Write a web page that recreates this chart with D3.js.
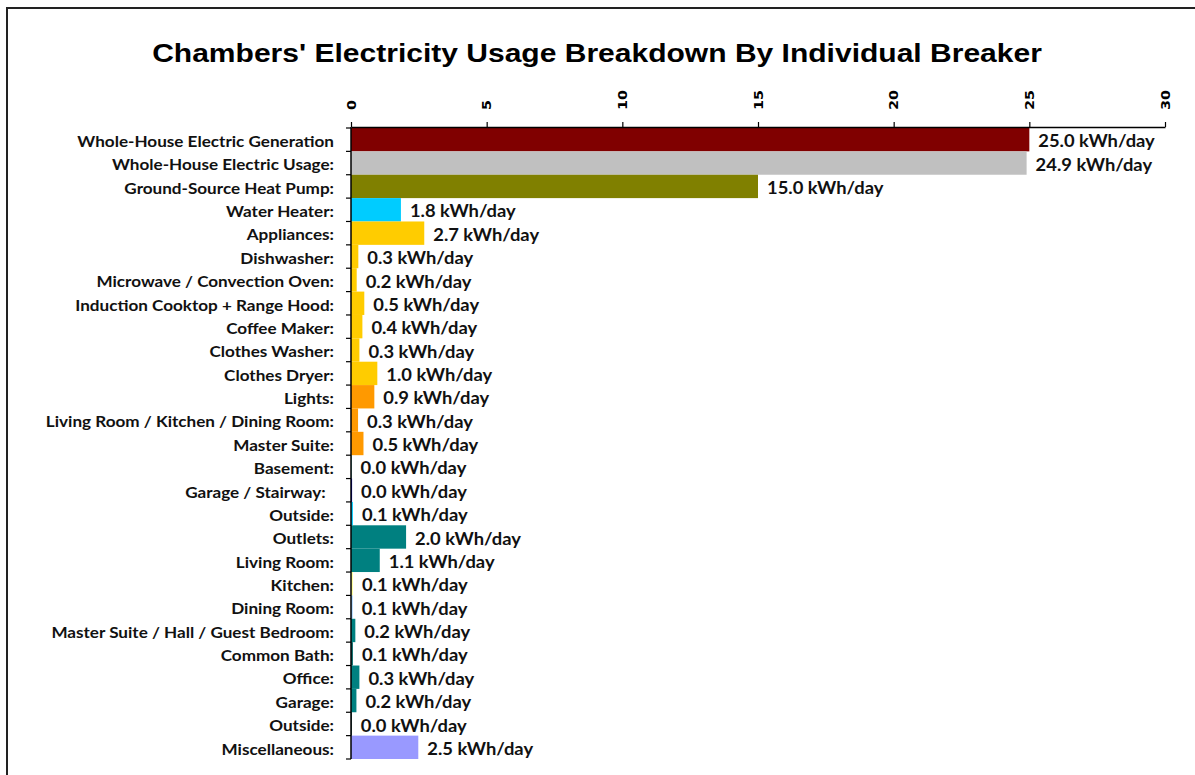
<!DOCTYPE html>
<html>
<head>
<meta charset="utf-8">
<script src="https://cdn.jsdelivr.net/npm/d3@7"></script>
<style>
  body { margin: 0; background: #fff; }
  svg { display: block; }
</style>
</head>
<body>
<div class="chart"></div>
<script>
;(function () {
  var W = 1195
  var H = 775

  var categories = [
    'Whole-House Electric Generation',
    'Whole-House Electric Usage:',
    'Ground-Source Heat Pump:',
    'Water Heater:',
    'Appliances:',
    'Dishwasher:',
    'Microwave / Convection Oven:',
    'Induction Cooktop + Range Hood:',
    'Coffee Maker:',
    'Clothes Washer:',
    'Clothes Dryer:',
    'Lights:',
    'Living Room / Kitchen / Dining Room:',
    'Master Suite:',
    'Basement:',
    'Garage / Stairway:  ',
    'Outside:',
    'Outlets:',
    'Living Room:',
    'Kitchen:',
    'Dining Room:',
    'Master Suite / Hall / Guest Bedroom:',
    'Common Bath:',
    'Office:',
    'Garage:',
    'Outside:',
    'Miscellaneous:'
  ]

  // kWh/day
  var values = [
    25.0, 24.9, 15.0, 1.84, 2.70, 0.27, 0.21, 0.49, 0.42, 0.31, 0.97,
    0.86, 0.26, 0.46, 0.02, 0.04, 0.07, 2.03, 1.06, 0.07, 0.06, 0.16,
    0.07, 0.31, 0.20, 0.03, 2.48
  ]

  var colors = [
    '#800000', '#c0c0c0', '#808000', '#00ccff', '#ffcc00', '#ffcc00', '#ffcc00',
    '#ffcc00', '#ffcc00', '#ffcc00', '#ffcc00', '#ff9900', '#ff9900', '#ff9900',
    '#008080', '#0000cc', '#00ccff', '#008080', '#008080', '#ffff99', '#99ccff',
    '#008080', '#006666', '#008080', '#008080', '#003333', '#9999ff'
  ]

  var xTicks = [0, 5, 10, 15, 20, 25, 30]

  var svg = d3.select('.chart').append('svg')
    .attr('width', W)
    .attr('height', H)

  svg.append('rect')
    .attr('width', W).attr('height', H)
    .attr('fill', '#fff')

  // outer frame (runs off the right and bottom)
  svg.append('rect')
    .attr('x', 7).attr('y', 8)
    .attr('width', W + 20).attr('height', H + 20)
    .attr('fill', 'none')
    .attr('stroke', '#222')
    .attr('stroke-width', 2)

  svg.append('text')
    .attr('transform', 'translate(597,62) scale(1.155,1)')
    .attr('text-anchor', 'middle')
    .style('font-family', 'Liberation Sans, Arial, sans-serif')
    .style('font-weight', 'bold')
    .style('font-size', '26px')
    .text("Chambers' Electricity Usage Breakdown By Individual Breaker")

  var x = d3.scaleLinear().domain([0, 30]).range([351, 1165])
  var y = d3.scaleBand()
    .domain(d3.range(categories.length))
    .range([128, 759])
    .padding(0)

  // bars
  svg.append('g').selectAll('rect')
    .data(values)
    .enter().append('rect')
    .attr('x', x(0))
    .attr('y', function (d, i) { return y(i) })
    .attr('width', function (d) { return x(d) - x(0) })
    .attr('height', y.bandwidth())
    .attr('fill', function (d, i) { return colors[i] })

  // top axis
  var xAxis = svg.append('g')
    .attr('transform', 'translate(0,127)')
    .call(d3.axisTop(x).tickValues(xTicks).tickSize(5).tickSizeOuter(0).tickPadding(0))
  xAxis.select('.domain').attr('stroke', '#000').attr('stroke-width', 1.5)
  xAxis.selectAll('.tick line').attr('stroke', '#000').attr('stroke-width', 1.2)
  xAxis.selectAll('.tick text')
    .attr('y', 0)
    .attr('transform', 'translate(0,-17) rotate(-90) scale(1.2,1)')
    .attr('text-anchor', 'start')
    .attr('dy', '0.35em')
    .attr('fill', '#000')
    .style('font-family', 'DejaVu Sans, Verdana, sans-serif')
    .style('font-weight', 'bold')
    .style('font-size', '12px')

  // left axis line + boundary ticks
  var yAxis = svg.append('g')
  yAxis.append('line')
    .attr('x1', x(0)).attr('x2', x(0))
    .attr('y1', 127).attr('y2', 759)
    .attr('stroke', '#000').attr('stroke-width', 1.5)
  yAxis.selectAll('.tk')
    .data(d3.range(categories.length + 1))
    .enter().append('line')
    .attr('class', 'tk')
    .attr('x1', x(0) - 5).attr('x2', x(0))
    .attr('y1', function (i) { return y.range()[0] + i * y.step() })
    .attr('y2', function (i) { return y.range()[0] + i * y.step() })
    .attr('stroke', '#000').attr('stroke-width', 1.2)

  // category labels
  svg.append('g').selectAll('text')
    .data(categories)
    .enter().append('text')
    .attr('transform', function (d, i) {
      return 'translate(334,' + (y(i) + y.bandwidth() / 2 + 1.5) + ') scale(1.07,1)'
    })
    .attr('dy', '0.36em')
    .attr('text-anchor', 'end')
    .style('white-space', 'pre')
    .style('font-family', 'Lato, sans-serif')
    .style('font-weight', 'bold')
    .style('font-size', '16px')
    .attr('fill', '#111')
    .text(function (d) { return d })

  // value labels
  svg.append('g').selectAll('text')
    .data(values)
    .enter().append('text')
    .attr('transform', function (d, i) {
      return 'translate(' + (x(d) + 9) + ',' + (y(i) + y.bandwidth() / 2 + 1.5) + ') scale(1.08,1)'
    })
    .attr('dy', '0.36em')
    .style('font-family', 'Lato, sans-serif')
    .style('font-weight', 'bold')
    .style('font-size', '17px')
    .attr('fill', '#111')
    .text(function (d) { return d.toFixed(1) + ' kWh/day' })
})()
</script>
</body>
</html>
